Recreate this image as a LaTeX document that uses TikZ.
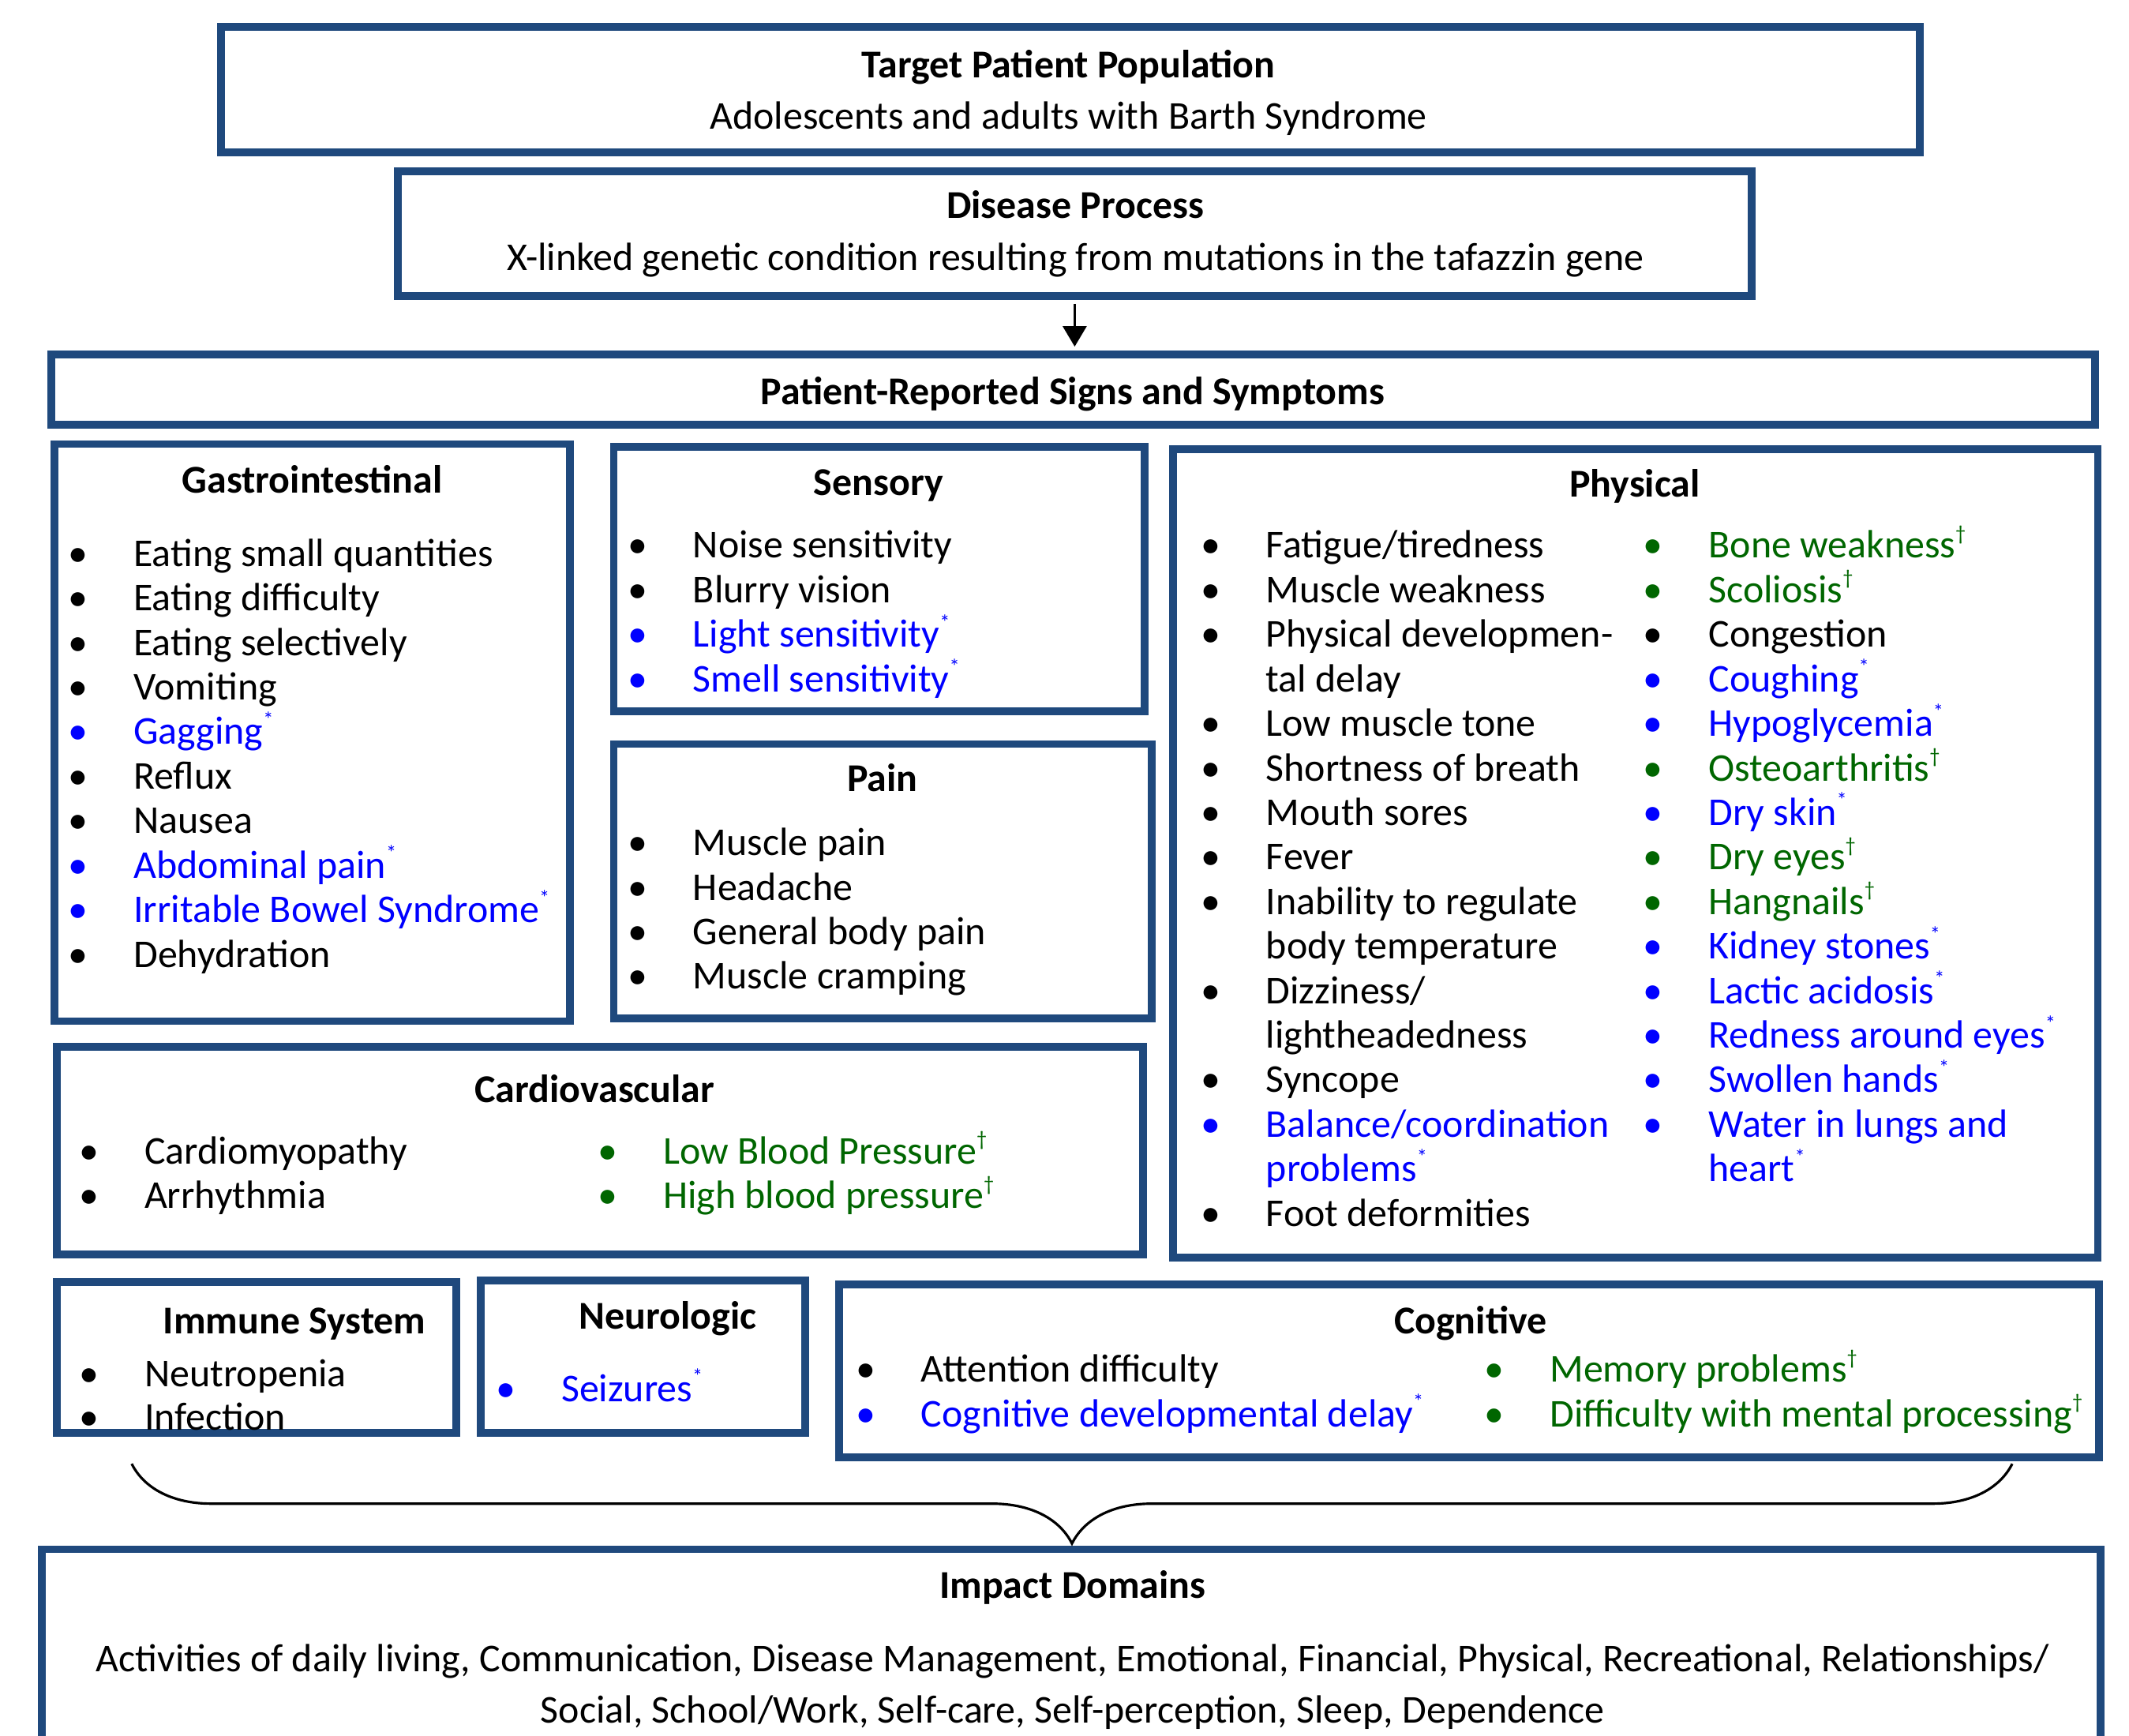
\documentclass[tikz,border=0pt]{standalone}
\usepackage{fontspec}
\setmainfont{Carlito}
\usetikzlibrary{arrows.meta,fit,decorations.pathreplacing}
\definecolor{boxblue}{RGB}{31,73,125}
\definecolor{itblue}{RGB}{0,0,255}
\definecolor{itgreen}{RGB}{0,102,0}
\newlength{\bulw}
\setlength{\bulw}{0.826cm}
\newcommand{\itm}[1]{\makebox[\bulw][l]{\textbullet}#1}
\newcommand{\itmb}[1]{\textcolor{itblue}{\itm{#1}}}
\newcommand{\itmg}[1]{\textcolor{itgreen}{\itm{#1}}}
\newcommand{\itmc}[1]{\hspace*{\bulw}#1}
\newcommand{\supa}{\raisebox{0.45em}{\fontsize{7.5}{7.5}\selectfont *}}
\newcommand{\supd}{\raisebox{0.45em}{\fontsize{7.5}{7.5}\selectfont \textdagger}}
\begin{document}
\begin{tikzpicture}[x=0.0172cm, y={(0cm,-0.0172cm)}, font=\fontsize{14.2}{16}\selectfont,
  box/.style={draw=boxblue, line width=2.8pt, inner sep=0pt},
  head/.style={font=\fontsize{14.2}{16}\selectfont\bfseries, anchor=base, inner sep=0pt},
  sub/.style={anchor=base, inner sep=0pt},
  item/.style={anchor=base west, inner sep=0pt}]
\useasboundingbox (0,0) rectangle (1568,1278);
\clip (0,0) rectangle (1568,1278);
\node[box, fit={(163,20) (1414,112)}] (target) {};
\node[box, fit={(293,126) (1290,218)}] (disease) {};
\node[box, fit={(38,261) (1543,313)}] (signs) {};
\node[box, fit={(40,327) (420,752)}] (gi) {};
\node[box, fit={(452,329) (843,524)}] (sens) {};
\node[box, fit={(452,548) (848,750)}] (pain) {};
\node[box, fit={(864,331) (1545,926)}] (phys) {};
\node[box, fit={(42,771) (842,924)}] (cardio) {};
\node[box, fit={(42,944) (336,1055)}] (immune) {};
\node[box, fit={(354,943) (593,1055)}] (neuro) {};
\node[box, fit={(618,946) (1546,1073)}] (cog) {};
\node[box, fit={(31,1141) (1547,1320)}] (impact) {};

\node[head] (target-t) at (787,57) {Target Patient Population};
\node[sub] (target-s) at (787,95) {Adolescents and adults with Barth Syndrome};
\node[head] (disease-t) at (792,161) {Disease Process};
\node[sub] (disease-s) at (792,199) {X-linked genetic condition resulting from mutations in the tafazzin gene};
\node[head] (signs-t) at (790,298) {Patient-Reported Signs and Symptoms};
\node[head] (gi-t) at (230,363) {Gastrointestinal};
\node[head] (sens-t) at (647,365) {Sensory};
\node[head] (pain-t) at (650,583) {Pain};
\node[head] (phys-t) at (1204,366) {Physical};
\node[head] (cardio-t) at (438,812) {Cardiovascular};
\node[head] (immune-t) at (217,982) {Immune System};
\node[head] (neuro-t) at (492,979) {Neurologic};
\node[head] (cog-t) at (1083,982) {Cognitive};
\node[head] (impact-t) at (790,1177) {Impact Domains};
\node[sub] (impact-a) at (790,1231) {Activities of daily living, Communication, Disease Management, Emotional, Financial, Physical, Recreational, Relationships/};
\node[sub] (impact-b) at (790,1269) {Social, School/Work, Self-care, Self-perception, Sleep, Dependence};

\foreach \t [count=\i] in {\itm{Eating small quantities}, \itm{Eating difficulty}, \itm{Eating selectively}, \itm{Vomiting}, \itmb{Gagging\supa}, \itm{Reflux}, \itm{Nausea}, \itmb{Abdominal pain\supa}, \itmb{Irritable Bowel Syndrome\supa}, \itm{Dehydration}}
  \node[item] (gi-\i) at (50,{417+32.8*(\i-1)}) {\t};
\foreach \t [count=\i] in {\itm{Noise sensitivity}, \itm{Blurry vision}, \itmb{Light sensitivity\supa}, \itmb{Smell sensitivity\supa}}
  \node[item] (sens-\i) at (462,{411+32.8*(\i-1)}) {\t};
\foreach \t [count=\i] in {\itm{Muscle pain}, \itm{Headache}, \itm{General body pain}, \itm{Muscle cramping}}
  \node[item] (pain-\i) at (462,{630+32.8*(\i-1)}) {\t};
\foreach \t [count=\i] in {\itm{Fatigue/tiredness}, \itm{Muscle weakness}, \itm{Physical developmen-}, \itmc{tal delay}, \itm{Low muscle tone}, \itm{Shortness of breath}, \itm{Mouth sores}, \itm{Fever}, \itm{Inability to regulate}, \itmc{body temperature}, \itm{Dizziness/}, \itmc{lightheadedness}, \itm{Syncope}, \itmb{Balance/coordination}, \textcolor{itblue}{\itmc{problems\supa}}, \itm{Foot deformities}}
  \node[item] (phys-l\i) at (884,{411+32.8*(\i-1)}) {\t};
\foreach \t [count=\i] in {\itmg{Bone weakness\supd}, \itmg{Scoliosis\supd}, \itm{Congestion}, \itmb{Coughing\supa}, \itmb{Hypoglycemia\supa}, \itmg{Osteoarthritis\supd}, \itmb{Dry skin\supa}, \itmg{Dry eyes\supd}, \itmg{Hangnails\supd}, \itmb{Kidney stones\supa}, \itmb{Lactic acidosis\supa}, \itmb{Redness around eyes\supa}, \itmb{Swollen hands\supa}, \itmb{Water in lungs and}, \textcolor{itblue}{\itmc{heart\supa}}}
  \node[item] (phys-r\i) at (1210,{411+32.8*(\i-1)}) {\t};
\foreach \t [count=\i] in {\itm{Cardiomyopathy}, \itm{Arrhythmia}}
  \node[item] (cardio-l\i) at (58,{857+32.8*(\i-1)}) {\t};
\foreach \t [count=\i] in {\itmg{Low Blood Pressure\supd}, \itmg{High blood pressure\supd}}
  \node[item] (cardio-r\i) at (440,{857+32.8*(\i-1)}) {\t};
\foreach \t [count=\i] in {\itm{Neutropenia}, \itm{Infection}}
  \node[item] (immune-\i) at (58,{1021+32.4*(\i-1)}) {\t};
\node[item] (neuro-1) at (365,1032) {\itmb{Seizures\supa}};
\foreach \t [count=\i] in {\itm{Attention difficulty}, \itmb{Cognitive developmental delay\supa}}
  \node[item] (cog-l\i) at (630,{1018+32.8*(\i-1)}) {\t};
\foreach \t [count=\i] in {\itmg{Memory problems\supd}, \itmg{Difficulty with mental processing\supd}}
  \node[item] (cog-r\i) at (1093,{1018+32.8*(\i-1)}) {\t};

\draw[-{Triangle[length=0.26cm,width=0.3cm]}, line width=0.9pt, shorten <=1.4pt, shorten >=1.4pt] (disease.south) -- (disease.south |- signs.north);
\coordinate (brl) at (97,1078);
\coordinate (brr) at (1482,1078);
\draw[line width=0.9pt, decorate, decoration={brace, amplitude=1.01cm}] (brr) -- (brl);
\end{tikzpicture}
\end{document}
